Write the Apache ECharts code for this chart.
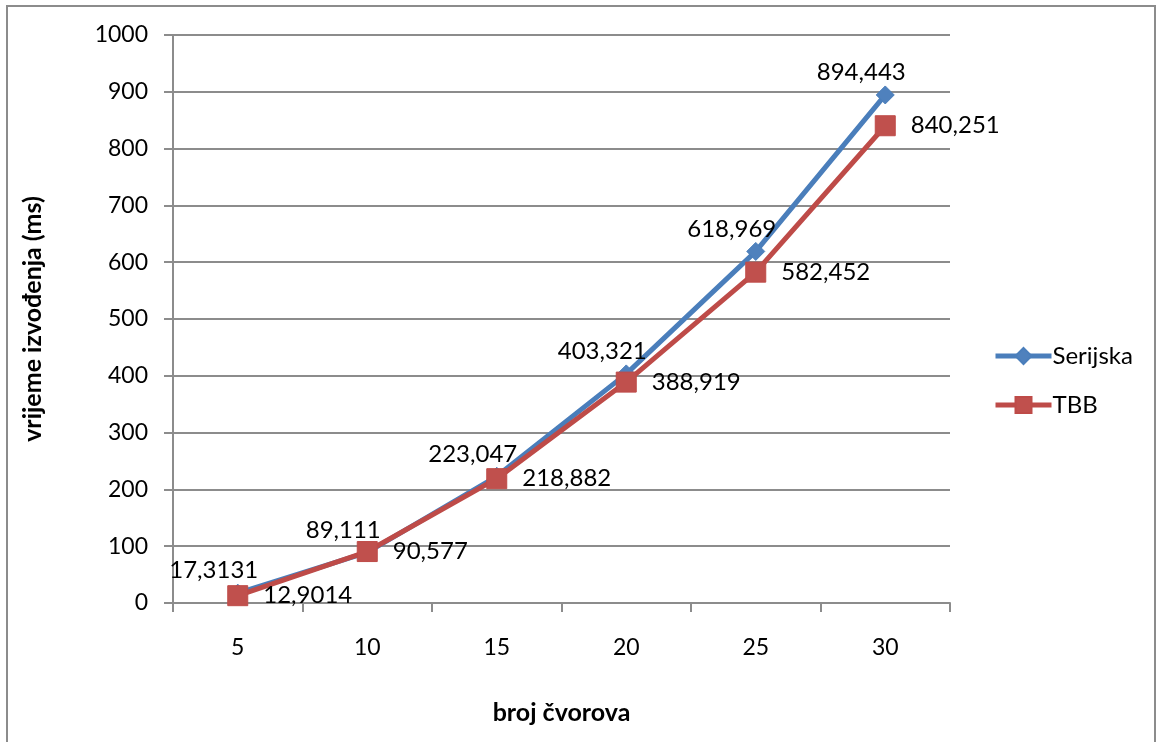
<!DOCTYPE html>
<html>
<head>
<meta charset="utf-8">
<style>
  html, body { margin: 0; padding: 0; background: #ffffff; }
  #chart { width: 1157px; height: 742px; }
</style>
<script src="https://cdn.jsdelivr.net/npm/echarts@6/dist/echarts.min.js"></script>
</head>
<body>
<div id="chart"></div>
<script>
// Number of nodes (x categories)
const categories = ['5', '10', '15', '20', '25', '30'];
// Execution times in ms
const serijska = [17.3131, 89.111, 223.047, 403.321, 618.969, 894.443];
const tbb = [12.9014, 90.577, 218.882, 388.919, 582.452, 840.251];

const FONT = 'Lato';
const fmt = v => String(v).replace('.', ',');

const chart = echarts.init(document.getElementById('chart'), null, { renderer: 'canvas' });

chart.setOption({
  backgroundColor: '#ffffff',
  animation: false,
  textStyle: { fontFamily: FONT, color: '#000000' },
  graphic: [{
    type: 'rect',
    shape: { x: 7, y: 6, width: 1148, height: 760 },
    style: { fill: 'none', stroke: '#8c8c8c', lineWidth: 2 },
    silent: true
  }],
  grid: { left: 173, top: 35, width: 777, height: 568, containLabel: false },
  legend: {
    orient: 'vertical',
    left: 988,
    top: 339,
    itemWidth: 56,
    itemHeight: 20,
    itemGap: 25,
    lineStyle: { width: 5 },
    textStyle: { fontFamily: FONT, fontSize: 24, color: '#000000', padding: [0, 0, 0, -4] },
    data: ['Serijska', 'TBB']
  },
  xAxis: {
    type: 'category',
    data: categories,
    boundaryGap: true,
    name: 'broj čvorova',
    nameLocation: 'middle',
    nameGap: 97,
    nameTextStyle: { fontFamily: FONT, fontSize: 25, fontWeight: 'bold', color: '#000000' },
    axisLine: { show: true, lineStyle: { color: '#8c8c8c', width: 2 } },
    axisTick: { show: true, alignWithLabel: false, interval: 0, length: 9, inside: false, lineStyle: { color: '#8c8c8c', width: 2 } },
    axisLabel: { fontFamily: FONT, fontSize: 23, color: '#000000', margin: 33 },
    splitLine: { show: false }
  },
  yAxis: {
    type: 'value',
    min: 0,
    max: 1000,
    interval: 100,
    name: 'vrijeme izvođenja (ms)',
    nameLocation: 'middle',
    nameGap: 128,
    nameRotate: 90,
    nameTextStyle: { fontFamily: FONT, fontSize: 25, fontWeight: 'bold', color: '#000000' },
    axisLine: { show: true, lineStyle: { color: '#8c8c8c', width: 2 } },
    axisTick: { show: true, length: 9, inside: false, lineStyle: { color: '#8c8c8c', width: 2 } },
    axisLabel: { fontFamily: FONT, fontSize: 23, color: '#000000', margin: 25, formatter: v => String(v) },
    splitLine: { show: true, lineStyle: { color: '#8c8c8c', width: 2 } }
  },
  series: [
    {
      name: 'Serijska',
      type: 'line',
      data: serijska,
      symbol: 'diamond',
      symbolSize: 18,
      color: '#4A7EBB',
      lineStyle: { color: '#4A7EBB', width: 5 },
      itemStyle: { color: '#4F81BD', borderColor: '#4A7EBB', borderWidth: 1 },
      label: {
        show: true,
        position: 'top',
        offset: [-24, 4],
        fontFamily: FONT,
        fontSize: 24,
        color: '#000000',
        formatter: p => fmt(p.value)
      },
      z: 2
    },
    {
      name: 'TBB',
      type: 'line',
      data: tbb,
      symbol: 'rect',
      symbolSize: 20,
      color: '#BE4B48',
      lineStyle: { color: '#BE4B48', width: 5 },
      itemStyle: { color: '#C0504D', borderColor: '#BE4B48', borderWidth: 1 },
      label: {
        show: true,
        position: 'right',
        distance: 15,
        fontFamily: FONT,
        fontSize: 24,
        color: '#000000',
        formatter: p => fmt(p.value)
      },
      z: 3
    }
  ]
});
</script>
</body>
</html>
